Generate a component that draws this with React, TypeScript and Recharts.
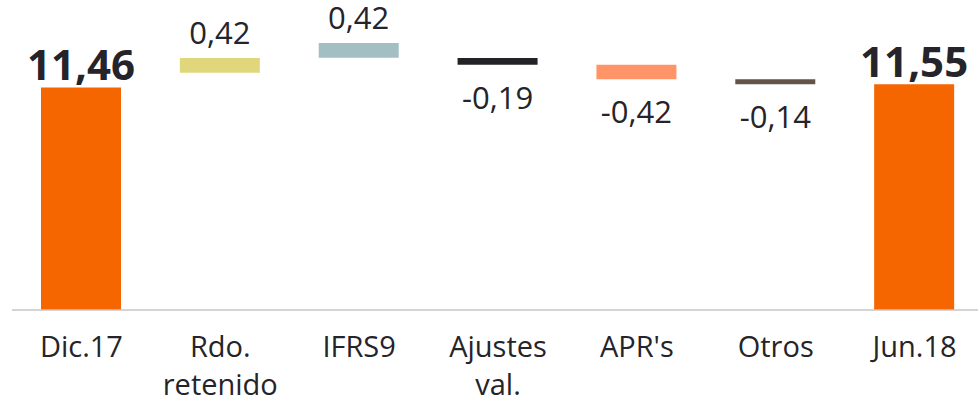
import { BarChart, Bar, XAxis, YAxis, Cell, LabelList } from "recharts";

// categories and values
const CATEGORIES = ["Dic.17", "Rdo. retenido", "IFRS9", "Ajustes val.", "APR's", "Otros", "Jun.18"];
const CHANGES = [11.46, 0.42, 0.42, -0.19, -0.42, -0.14, 11.55];
const IS_TOTAL = [true, false, false, false, false, false, true];

// floating bar ends, as drawn in the source (its axis is cut at ~5.1)
const AXIS_MIN = 5.1;
const AXIS_MAX = 13.6;
const BAR_LOW = [AXIS_MIN, 11.88, 12.31, 12.11, 11.69, 11.55, AXIS_MIN];
const BAR_HIGH = [11.46, 12.3, 12.73, 12.3, 12.11, 11.69, 11.55];

const COLORS = ["#f56600", "#e0d67b", "#a3bfc3", "#222227", "#ff9468", "#635448", "#f56600"];
const TEXT = "#24242a";
const FONT = "'Open Sans', sans-serif";

const fmt = (v: number) => v.toFixed(2).replace(".", ",");

const data = CATEGORIES.map((name, i) => ({
  name,
  range: [BAR_LOW[i], BAR_HIGH[i]],
  label: fmt(CHANGES[i]),
}));

function ValueLabel(props: any) {
  const box = props.viewBox ?? props;
  const { x, y, width, height } = box;
  const i = props.index;
  const top = Math.min(y, y + height);
  const bottom = Math.max(y, y + height);
  const cx = x + width / 2;
  if (IS_TOTAL[i]) {
    return (
      <text x={cx} y={top - 7} textAnchor="middle" fill={TEXT} fontSize={42} fontWeight={700} fontFamily={FONT}>
        {props.value}
      </text>
    );
  }
  if (CHANGES[i] >= 0) {
    return (
      <text x={cx} y={top - 14} textAnchor="middle" fill={TEXT} fontSize={31} fontFamily={FONT}>
        {props.value}
      </text>
    );
  }
  return (
    <text x={cx} y={bottom + 44} textAnchor="middle" fill={TEXT} fontSize={31} fontFamily={FONT}>
      {props.value}
    </text>
  );
}

function CategoryTick({ x, y, payload }: any) {
  const lines = String(payload.value).split(" ");
  return (
    <text x={x} y={y} textAnchor="middle" fill={TEXT} fontSize={29} fontFamily={FONT}>
      {lines.map((line, i) => (
        <tspan key={i} x={x} dy={i === 0 ? 39 : 38}>
          {line}
        </tspan>
      ))}
    </text>
  );
}

export default function App() {
  return (
    <div style={{ position: "absolute", left: 0, top: 0, width: 978, height: 400, overflow: "hidden", background: "#fff" }}>
      <BarChart width={990} height={400} data={data} margin={{ top: 12.5, right: 6, bottom: 0, left: 12 }}>
        <XAxis
          dataKey="name"
          height={90}
          interval={0}
          tickLine={false}
          axisLine={{ stroke: "#c6c6c6", strokeWidth: 1.5 }}
          tick={<CategoryTick />}
        />
        <YAxis hide type="number" domain={[AXIS_MIN, AXIS_MAX]} allowDataOverflow />
        <Bar dataKey="range" barSize={80} isAnimationActive={false}>
          {data.map((d, i) => (
            <Cell key={d.name} fill={COLORS[i]} />
          ))}
          <LabelList dataKey="label" content={<ValueLabel />} />
        </Bar>
      </BarChart>
    </div>
  );
}
